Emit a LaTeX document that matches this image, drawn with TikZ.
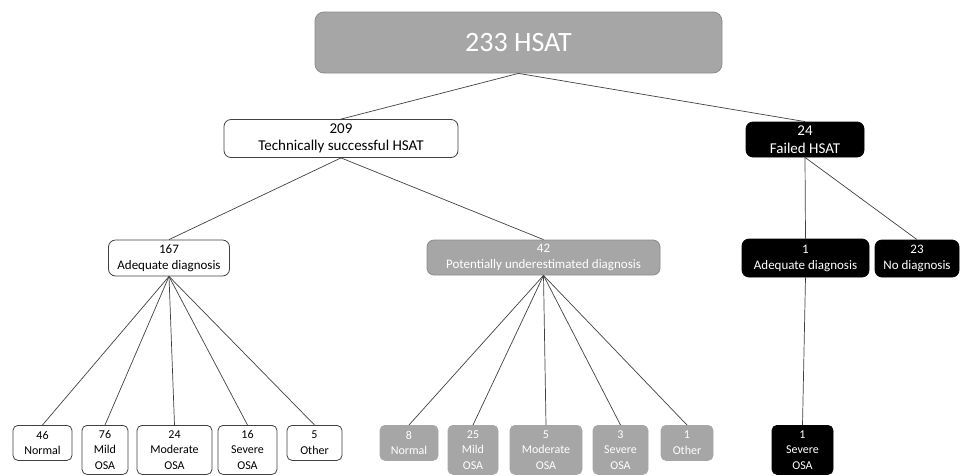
\documentclass[tikz,border=0pt]{standalone}
\usepackage{fontspec}
\setmainfont{Carlito}
\usetikzlibrary{positioning}
\definecolor{boxgray}{HTML}{A6A6A6}
\definecolor{edgegray}{HTML}{8C8C8C}
\definecolor{linegray}{HTML}{404040}

\begin{document}
\begin{tikzpicture}[
    x=1pt, y=-1pt,
    box/.style={rectangle, draw=linegray, line width=0.8pt, rounded corners=7pt, align=center, inner sep=2pt, font=\fontsize{13}{16}\selectfont},
    okbox/.style={box, fill=white},
    greybox/.style={box, draw=edgegray, fill=boxgray, text=white},
    failbox/.style={box, draw=black, fill=black, text=white},
    leaf/.style={anchor=north, rounded corners=5pt, font=\fontsize{12}{15.5}\selectfont, minimum height=35pt},
    tall/.style={minimum height=49pt},
    link/.style={draw=linegray, line width=0.7pt}
]
\useasboundingbox (0,0) rectangle (961,475);

% Total
\node[greybox, minimum width=407pt, minimum height=61pt, rounded corners=9pt, font=\fontsize{28}{30}\selectfont] (total) at (518.5,42.5) {233 HSAT};

% Second level
\node[okbox, minimum width=234pt, minimum height=38pt, font=\fontsize{15}{17.5}\selectfont] (success) at (341,138.5) {209\\Technically successful HSAT};
\node[failbox, minimum width=118pt, minimum height=35pt, font=\fontsize{15}{17.5}\selectfont] (failed) at (805,139.5) {24\\Failed HSAT};

% Third level
\node[okbox, minimum width=121pt, minimum height=36pt] (adequate) at (169,258) {167\\Adequate diagnosis};
\node[greybox, minimum width=233pt, minimum height=35pt] (under) at (543.5,257.5) {42\\Potentially underestimated diagnosis};
\node[failbox, minimum width=127pt, minimum height=38pt] (failadeq) at (805.5,258) {1\\Adequate diagnosis};
\node[failbox, minimum width=84pt, minimum height=37pt] (nodiag) at (917,258.5) {23\\No diagnosis};

% Adequate diagnosis outcomes
\node[okbox, leaf, minimum width=59pt] (a-normal) at (42.5,425) {46\\Normal};
\node[okbox, leaf, tall, minimum width=46pt] (a-mild) at (105,425) {76\\Mild\\OSA};
\node[okbox, leaf, tall, minimum width=75pt] (a-mod) at (174.5,425) {24\\Moderate\\OSA};
\node[okbox, leaf, tall, minimum width=59pt] (a-sev) at (247.5,425) {16\\Severe\\OSA};
\node[okbox, leaf, minimum width=55pt] (a-other) at (314.5,425) {5\\Other};

% Underestimated diagnosis outcomes
\node[greybox, leaf, draw=boxgray, minimum width=58pt] (u-normal) at (409,425) {8\\Normal};
\node[greybox, leaf, tall, draw=boxgray, minimum width=50pt] (u-mild) at (473,425) {25\\Mild\\OSA};
\node[greybox, leaf, tall, draw=boxgray, minimum width=72pt] (u-mod) at (546,425) {5\\Moderate\\OSA};
\node[greybox, leaf, tall, draw=boxgray, minimum width=55pt] (u-sev) at (620.5,425) {3\\Severe\\OSA};
\node[greybox, leaf, draw=boxgray, minimum width=52pt] (u-other) at (687,425) {1\\Other};

% Failed HSAT outcome
\node[failbox, leaf, tall, minimum width=61pt] (f-sev) at (802.5,425) {1\\Severe\\OSA};

% Links
\draw[link] (total.south) -- (success.north);
\draw[link] (total.south) -- (failed.north);
\draw[link] (success.south) -- (adequate.north);
\draw[link] (success.south) -- (under.north);
\draw[link] (failed.south) -- (failadeq.north);
\draw[link] (failed.south) -- (nodiag.north);
\foreach \leafname in {a-normal, a-mild, a-mod, a-sev, a-other}
    \draw[link] (adequate.south) -- (\leafname.north);
\foreach \leafname in {u-normal, u-mild, u-mod, u-sev, u-other}
    \draw[link] (under.south) -- (\leafname.north);
\draw[link] (failadeq.south) -- (f-sev.north);

\end{tikzpicture}
\end{document}
